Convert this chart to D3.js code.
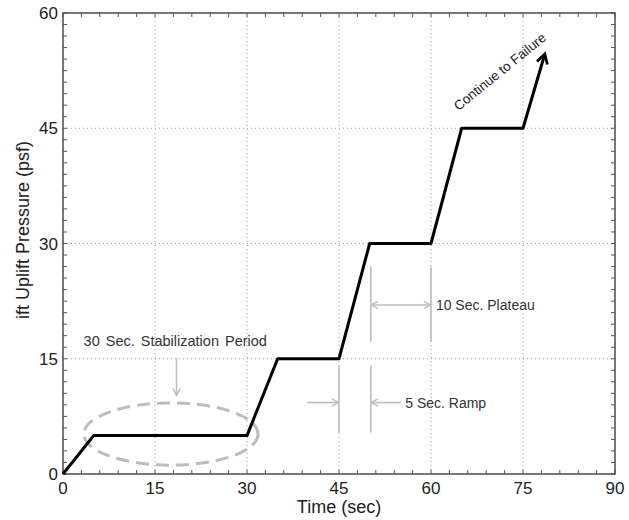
<!DOCTYPE html>
<html>
<head>
<meta charset="utf-8">
<script src="https://cdn.jsdelivr.net/npm/d3@7"></script>
<style>
  body { margin: 0; background: #fff; }
  svg text { font-family: Arial, "Liberation Sans", sans-serif; }
</style>
</head>
<body>
<div id="chart"></div>
<script>
// load protocol: time (sec) vs pressure (psf)
const times     = [0, 5, 30, 35, 45, 50, 60, 65, 75, 78.5];
const pressures = [0, 5, 5, 15, 15, 30, 30, 45, 45, 54.5];
const xTicks = [0, 15, 30, 45, 60, 75, 90];
const yTicks = [0, 15, 30, 45, 60];

const width = 629, height = 520;
const margin = {top: 13, right: 14, bottom: 46, left: 63};
const w = width - margin.left - margin.right;
const h = height - margin.top - margin.bottom;

const svg = d3.select("#chart").append("svg")
    .attr("width", width).attr("height", height);

const defs = svg.append("defs");
defs.append("marker").attr("id", "blackhead")
    .attr("viewBox", "0 0 10 10").attr("refX", 7).attr("refY", 5)
    .attr("markerWidth", 4.5).attr("markerHeight", 4.5).attr("orient", "auto")
  .append("path").attr("d", "M1,1 L8,5 L1,9").attr("fill", "none")
    .attr("stroke", "#000").attr("stroke-width", 2);
defs.append("marker").attr("id", "greyhead")
    .attr("viewBox", "0 0 10 10").attr("refX", 9).attr("refY", 5)
    .attr("markerWidth", 9).attr("markerHeight", 9).attr("markerUnits", "userSpaceOnUse")
    .attr("orient", "auto-start-reverse")
  .append("path").attr("d", "M1,1 L9,5 L1,9").attr("fill", "none")
    .attr("stroke", "#bdbdbd").attr("stroke-width", 1.6);

const g = svg.append("g").attr("transform", `translate(${margin.left},${margin.top})`);

const x = d3.scaleLinear().domain([0, 90]).range([0, w]);
const y = d3.scaleLinear().domain([0, 60]).range([h, 0]);

// dotted grid
g.append("g").selectAll("line").data(xTicks.slice(1, -1)).join("line")
    .attr("x1", d => x(d)).attr("x2", d => x(d)).attr("y1", 0).attr("y2", h)
    .attr("stroke", "#999").attr("stroke-dasharray", "1,3");
g.append("g").selectAll("line").data(yTicks.slice(1, -1)).join("line")
    .attr("y1", d => y(d)).attr("y2", d => y(d)).attr("x1", 0).attr("x2", w)
    .attr("stroke", "#999").attr("stroke-dasharray", "1,3");

// inward minor ticks on all sides
const xMinor = d3.range(0, 91, 3), yMinor = d3.range(0, 60.1, 1.5);
const axisCol = "#555";
const tg = g.append("g").attr("stroke", axisCol);
xMinor.forEach(d => {
  tg.append("line").attr("x1", x(d)).attr("x2", x(d)).attr("y1", h).attr("y2", h - 4);
  tg.append("line").attr("x1", x(d)).attr("x2", x(d)).attr("y1", 0).attr("y2", 4);
});
yMinor.forEach(d => {
  tg.append("line").attr("y1", y(d)).attr("y2", y(d)).attr("x1", 0).attr("x2", 4);
  tg.append("line").attr("y1", y(d)).attr("y2", y(d)).attr("x1", w).attr("x2", w - 4);
});

// box
g.append("rect").attr("width", w).attr("height", h)
    .attr("fill", "none").attr("stroke", axisCol).attr("stroke-width", 1.6);

// tick labels
g.append("g").selectAll("text").data(xTicks).join("text")
    .attr("x", d => x(d)).attr("y", h + 20).attr("text-anchor", "middle")
    .attr("font-size", 17).attr("fill", "#222").text(d => d);
g.append("g").selectAll("text").data(yTicks).join("text")
    .attr("x", -5).attr("y", d => y(d) + 6).attr("text-anchor", "end")
    .attr("font-size", 17).attr("fill", "#222").text(d => d);

// axis titles
g.append("text").attr("x", w / 2).attr("y", h + 39).attr("text-anchor", "middle")
    .attr("font-size", 18).attr("fill", "#222").text("Time (sec)");
svg.append("text").attr("transform", "translate(29,230) rotate(-90)")
    .attr("text-anchor", "middle").attr("font-size", 18).attr("fill", "#222")
    .text("ift Uplift Pressure (psf)");

// annotations (grey)
const grey = "#bdbdbd";
const ann = g.append("g");
ann.append("ellipse")
    .attr("cx", x(17.6)).attr("cy", y(5.2))
    .attr("rx", x(14.2) - x(0)).attr("ry", y(0) - y(4.05))
    .attr("fill", "none").attr("stroke", grey).attr("stroke-width", 3)
    .attr("stroke-dasharray", "13,7");
ann.append("text").attr("x", x(18.3)).attr("y", y(16.6)).attr("text-anchor", "middle")
    .attr("font-size", 14.5).attr("fill", "#333").attr("word-spacing", 2)
    .text("30 Sec. Stabilization Period");
ann.append("line").attr("x1", x(18.5)).attr("x2", x(18.5)).attr("y1", y(15.1)).attr("y2", y(10.2))
    .attr("stroke", grey).attr("stroke-width", 1.6).attr("marker-end", "url(#greyhead)");

// 10 sec plateau
[50.2, 60].forEach(t => ann.append("line").attr("x1", x(t)).attr("x2", x(t))
    .attr("y1", y(27)).attr("y2", y(17.2)).attr("stroke", grey).attr("stroke-width", 1.6));
ann.append("line").attr("x1", x(50.2)).attr("x2", x(60)).attr("y1", y(22)).attr("y2", y(22))
    .attr("stroke", grey).attr("stroke-width", 1.6)
    .attr("marker-start", "url(#greyhead)").attr("marker-end", "url(#greyhead)");
ann.append("text").attr("x", x(60.8)).attr("y", y(22) + 5).attr("font-size", 14)
    .attr("fill", "#333").text("10 Sec. Plateau");

// 5 sec ramp
[45, 50.2].forEach(t => ann.append("line").attr("x1", x(t)).attr("x2", x(t))
    .attr("y1", y(14.1)).attr("y2", y(5.4)).attr("stroke", grey).attr("stroke-width", 1.6));
ann.append("line").attr("x1", x(39.8)).attr("x2", x(45)).attr("y1", y(9.3)).attr("y2", y(9.3))
    .attr("stroke", grey).attr("stroke-width", 1.6).attr("marker-end", "url(#greyhead)");
ann.append("line").attr("x1", x(55.1)).attr("x2", x(50.2)).attr("y1", y(9.3)).attr("y2", y(9.3))
    .attr("stroke", grey).attr("stroke-width", 1.6).attr("marker-end", "url(#greyhead)");
ann.append("text").attr("x", x(55.8)).attr("y", y(9.3) + 5).attr("font-size", 14)
    .attr("fill", "#333").text("5 Sec. Ramp");

// load path
const pts = times.map((t, i) => [t, pressures[i]]);
g.append("path").datum(pts)
    .attr("d", d3.line().x(d => x(d[0])).y(d => y(d[1])))
    .attr("fill", "none").attr("stroke", "#000").attr("stroke-width", 3)
    .attr("stroke-linejoin", "round").attr("marker-end", "url(#blackhead)");

g.append("text").attr("transform", `translate(${x(71.7)},${y(51.9)}) rotate(-39)`)
    .attr("text-anchor", "middle").attr("font-size", 13.5).attr("fill", "#222")
    .text("Continue to Failure");
</script>
</body>
</html>
